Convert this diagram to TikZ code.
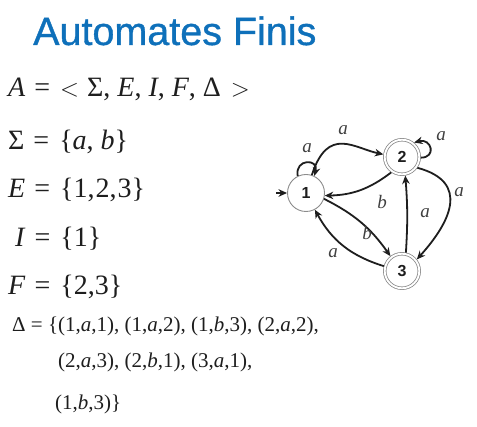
\documentclass[tikz,border=0pt]{standalone}
\usepackage{fontspec}
\setmainfont{Liberation Serif}
\newfontfamily\titlefont[FakeBold=0.9]{Liberation Sans}
\newfontfamily\numfont{Liberation Sans}
\usetikzlibrary{arrows.meta}
\definecolor{titleblue}{RGB}{14,112,186}
\definecolor{ink}{RGB}{30,30,30}
\definecolor{ringgray}{RGB}{140,140,140}
\newcommand{\mi}[1]{\textit{#1}}
\newcommand{\rel}[1]{\hspace{9pt}#1\hspace{10pt}}
\begin{document}
\begin{tikzpicture}[
  x=1pt,y=1pt,
  title/.style={anchor=base west, inner sep=0pt, text=titleblue, font=\titlefont\fontsize{39.5}{44}\selectfont},
  mathline/.style={anchor=base west, inner sep=0pt, text=ink, font=\fontsize{28}{32}\selectfont},
  deltaline/.style={anchor=base west, inner sep=0pt, text=ink, font=\fontsize{21}{25}\selectfont},
  state/.style={circle, draw=ringgray, line width=0.9pt, minimum size=37pt, inner sep=0pt, font=\numfont\bfseries\fontsize{16}{18}\selectfont, text=ink},
  accept/.style={circle, draw=ringgray, line width=0.8pt, double, double distance=1.8pt, minimum size=34.5pt, inner sep=0pt, outer sep=1.6pt, font=\numfont\bfseries\fontsize{16}{18}\selectfont, text=ink},
  trans/.style={draw=ink, line width=1.8pt, -{Stealth[length=8.5pt,width=7.5pt]}},
  lbl/.style={inner sep=0pt, text=ink!85, font=\itshape\fontsize{19}{21}\selectfont}
]
\useasboundingbox (0,0) rectangle (477,-427);
\fill[white] (0,0) rectangle (477,-427);

\node[title] (t) at (33,-45) {Automates Finis};

\node[mathline] (l1) at (8,-97) {\mi{A}\rel{=}$<$\hspace{8pt}Σ, \mi{E}, \mi{I}, \mi{F}, Δ\hspace{10pt}$>$};
\node[mathline] (l2) at (8,-150) {Σ\rel{=}\{\mi{a}, \mi{b}\}};
\node[mathline] (l3) at (8,-198) {\mi{E}\rel{=}\{1,\kern1pt2,\kern1pt3\}};
\node[mathline] (l4) at (15,-247) {\mi{I}\rel{=}\{1\}};
\node[mathline] (l5) at (8,-295) {\mi{F}\rel{=}\{2,3\}};

\node[deltaline] (d1) at (12,-332) {Δ = \{(1,\mi{a},1), (1,\mi{a},2), (1,\mi{b},3), (2,\mi{a},2),};
\node[deltaline] (d2) at (58,-368) {(2,\mi{a},3), (2,\mi{b},1), (3,\mi{a},1),};
\node[deltaline] (d3) at (55,-410) {(1,\mi{b},3)\}};

\node[state] (n1) at (306,-193) {1};
\node[accept] (n2) at (402,-157) {2};
\node[accept] (n3) at (402,-271) {3};
\coordinate (init) at (276,-193);

\draw[trans] (init) -- (n1);
\draw[trans] (n1.116) .. controls +(100:18) and +(75:18) .. (n1.64);
\draw[trans] (n1.72) .. controls +(72:52) and +(168:30) .. (n2.172);
\draw[trans] (n2.-2) .. controls +(0:16) and +(15:18) .. (n2.50);
\draw[trans] (n2.235) to[bend left=18] (n1.-8);
\draw[trans] (n1.-18) to[bend left=14] (n3.128);
\draw[trans] (n3.78) to[bend right=4] (n2.-80);
\draw[trans] (n2.-35) .. controls +(-15:55) and +(48:50) .. (n3.38);
\draw[trans] (n3.165) to[bend left=22] (n1.-62);

\node[lbl] (a11) at (307,-148) {a};
\node[lbl] (a12) at (343,-130) {a};
\node[lbl] (a22) at (441,-136) {a};
\node[lbl] (b21) at (382,-202) {b};
\node[lbl] (b13) at (367,-233) {b};
\node[lbl] (a32) at (425,-213) {a};
\node[lbl] (a23) at (459,-192) {a};
\node[lbl] (a31) at (333,-253) {a};
\end{tikzpicture}
\end{document}
